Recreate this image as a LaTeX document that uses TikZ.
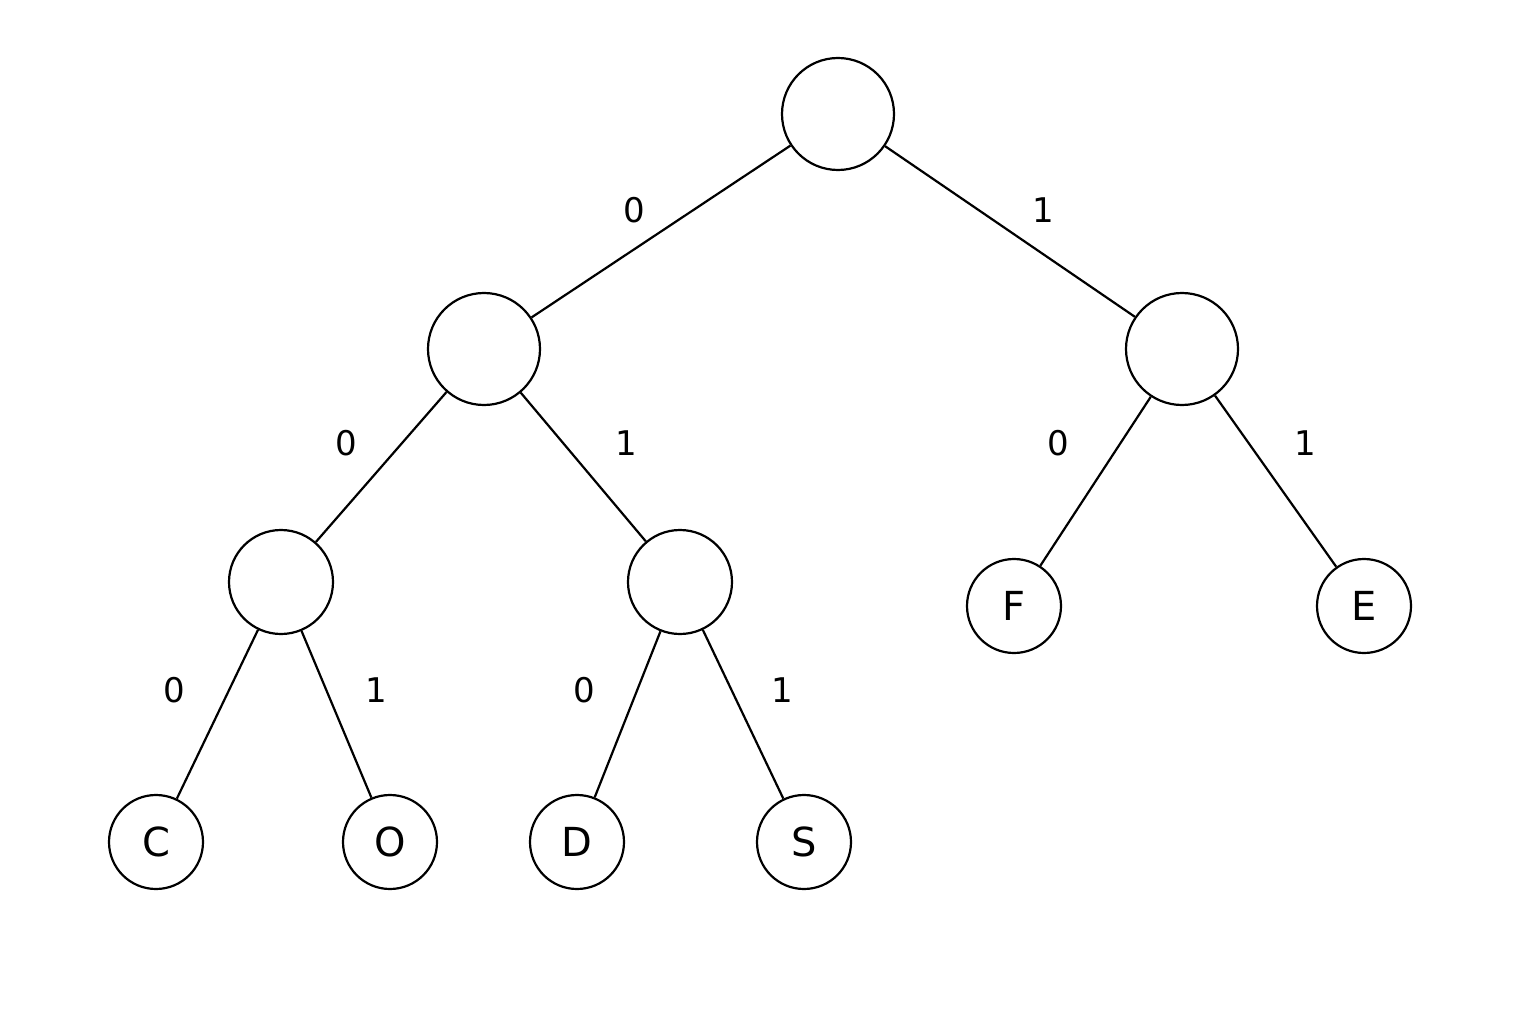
\documentclass[tikz,border=0pt]{standalone}
\usepackage{fontspec}
\setmainfont{DejaVu Sans}
\begin{document}
\begin{tikzpicture}[x=1pt,y=-1pt,
  nd/.style={draw,circle,line width=2.2pt,inner sep=0pt,font=\fontsize{40}{40}\selectfont},
  lb/.style={font=\fontsize{34}{34}\selectfont},
  ed/.style={line width=2.2pt}]
\useasboundingbox (0,0) rectangle (1536,1024);
\node[nd,minimum size=112] (root) at (838,114) {};
\node[nd,minimum size=112] (L) at (484,349) {};
\node[nd,minimum size=112] (R) at (1182,349) {};
\node[nd,minimum size=104] (LL) at (281,582) {};
\node[nd,minimum size=104] (LR) at (680,582) {};
\node[nd,minimum size=94] (F) at (1014,606) {F};
\node[nd,minimum size=94] (E) at (1364,606) {E};
\node[nd,minimum size=94] (C) at (156,842) {C};
\node[nd,minimum size=94] (O) at (390,842) {O};
\node[nd,minimum size=94] (D) at (577,842) {D};
\node[nd,minimum size=94] (S) at (804,842) {S};
\draw[ed] (root)--(L); \draw[ed] (root)--(R);
\draw[ed] (L)--(LL); \draw[ed] (L)--(LR);
\draw[ed] (R)--(F); \draw[ed] (R)--(E);
\draw[ed] (LL)--(C); \draw[ed] (LL)--(O);
\draw[ed] (LR)--(D); \draw[ed] (LR)--(S);
\node[lb] (l1) at (634,210) {0};
\node[lb] (l2) at (1043,210) {1};
\node[lb] (l3) at (346,443) {0};
\node[lb] (l4) at (626,443) {1};
\node[lb] (l5) at (1058,443) {0};
\node[lb] (l6) at (1305,443) {1};
\node[lb] (l7) at (174,690) {0};
\node[lb] (l8) at (376,690) {1};
\node[lb] (l9) at (584,690) {0};
\node[lb] (l10) at (782,690) {1};
\end{tikzpicture}
\end{document}
